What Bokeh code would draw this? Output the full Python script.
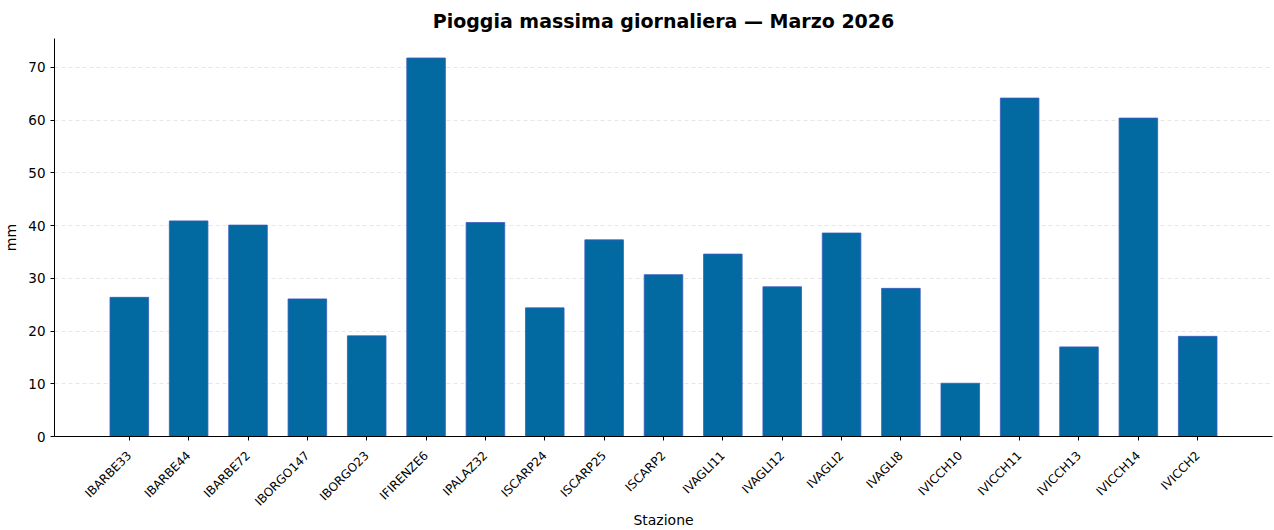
import math
from bokeh.plotting import figure
from bokeh.models import FactorRange, Range1d, FixedTicker, ColumnDataSource
from bokeh.embed import file_html
from bokeh.resources import INLINE

stations = ["IBARBE33", "IBARBE44", "IBARBE72", "IBORGO147", "IBORGO23", "IFIRENZE6",
            "IPALAZ32", "ISCARP24", "ISCARP25", "ISCARP2", "IVAGLI11", "IVAGLI12",
            "IVAGLI2", "IVAGLI8", "IVICCH10", "IVICCH11", "IVICCH13", "IVICCH14", "IVICCH2"]
rain_mm = [26.4, 40.9, 40.1, 26.1, 19.1, 71.8, 40.6, 24.4, 37.3, 30.7, 34.6, 28.4,
           38.6, 28.1, 10.1, 64.2, 17.0, 60.4, 19.0]
y_ticks = [0, 10, 20, 30, 40, 50, 60, 70]

src = ColumnDataSource(data=dict(station=stations, mm=rain_mm))

p = figure(frame_width=1218, frame_height=398, output_backend="svg", toolbar_location=None,
           x_range=FactorRange(factors=stations, range_padding=0.08),
           y_range=Range1d(0, 75.5),
           title="Pioggia massima giornaliera — Marzo 2026",
           min_border_left=46, min_border_right=2, min_border_top=0, min_border_bottom=0)

p.vbar(x="station", top="mm", source=src, width=0.65, fill_color="#0369a1",
       line_color="#3a5cc0", line_width=0.8)

p.title.align = "center"
p.title.text_font = "DejaVu Sans"
p.title.text_font_size = "19px"
p.title.text_font_style = "bold"
p.title.text_color = "black"
p.title.text_line_height = 0.85
p.title.standoff = 14

p.outline_line_color = None
p.background_fill_color = "white"
p.border_fill_color = "white"

p.xgrid.grid_line_color = None
p.ygrid.grid_line_color = "#e6e6e6"
p.ygrid.grid_line_dash = "4 3"
p.ygrid.grid_line_width = 1
p.yaxis.ticker = FixedTicker(ticks=y_ticks)

for ax in (p.xaxis[0], p.yaxis[0]):
    ax.axis_line_color = "black"
    ax.axis_line_width = 1
    ax.major_tick_line_color = "black"
    ax.major_tick_out = 4
    ax.major_tick_in = 0
    ax.minor_tick_out = 0
    ax.minor_tick_in = 0
    ax.major_label_text_font = "DejaVu Sans"
    ax.major_label_text_color = "black"
    ax.axis_label_text_font = "DejaVu Sans"
    ax.axis_label_text_font_style = "normal"
    ax.axis_label_text_font_size = "14px"
    ax.axis_label_text_color = "black"

p.yaxis.major_label_text_font_size = "13.5px"
p.xaxis.major_label_text_font_size = "12px"
p.xaxis.major_label_orientation = math.pi / 4
p.xaxis.major_label_standoff = 13
p.xaxis.axis_label = "Stazione"
p.yaxis.axis_label = "mm"
p.xaxis.axis_label_standoff = -5
p.yaxis.axis_label_standoff = 6

open("out.html", "w").write(file_html(p, INLINE))
